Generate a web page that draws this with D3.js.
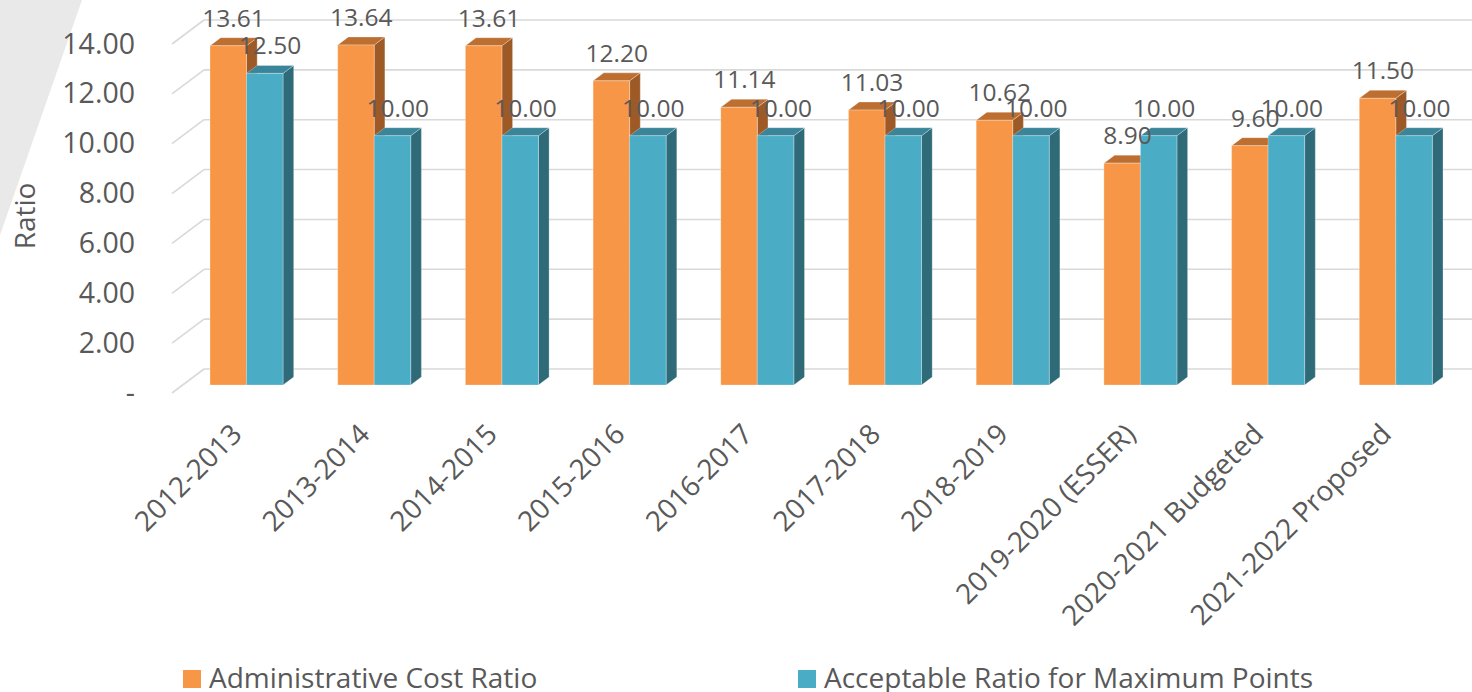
<!DOCTYPE html>
<html>
<head>
<meta charset="utf-8"/>
<style>
  body { margin: 0; background: #fff; }
  svg text { font-family: "Open Sans", "Noto Sans", sans-serif; fill: #595959; }
</style>
</head>
<body>
<svg id="chart" width="1472" height="692"></svg>
<script src="https://d3js.org/d3.v7.min.js"></script>
<script>
// data
const categories = ["2012-2013", "2013-2014", "2014-2015", "2015-2016", "2016-2017",
  "2017-2018", "2018-2019", "2019-2020 (ESSER)", "2020-2021 Budgeted", "2021-2022 Proposed"];
const adminCostRatio = [13.61, 13.64, 13.61, 12.20, 11.14, 11.03, 10.62, 8.90, 9.60, 11.50];
const acceptableRatio = [12.50, 10.00, 10.00, 10.00, 10.00, 10.00, 10.00, 10.00, 10.00, 10.00];
const seriesNames = ["Administrative Cost Ratio", "Acceptable Ratio for Maximum Points"];
const yTicks = [0, 2, 4, 6, 8, 10, 12, 14];

const svg = d3.select("#chart");

// 3d look: floor front edge, depth goes up-right
const floorY = 393;
const DX = 32, DY = -24;       // full depth of the floor
const barD0 = 1 / 3, barD1 = 2 / 3;

const x = d3.scaleBand().domain(categories).range([172, 1449])
  .paddingInner(0.428).paddingOuter(0.214);
const xs = d3.scaleBand().domain(seriesNames).range([0, x.bandwidth()]);
const h = d3.scaleLinear().domain([0, 14]).range([0, 349]);
const yFront = d3.scaleLinear().domain([0, 14]).range([floorY, floorY - 349]);

const colors = {
  "Administrative Cost Ratio": { front: "#f79646", top: "#bd6f32", side: "#9d5a26" },
  "Acceptable Ratio for Maximum Points": { front: "#4bacc6", top: "#3a8599", side: "#2f6a79" }
};

// gray corner in the top-left
svg.append("polygon").attr("points", "0,0 82,0 0,235").attr("fill", "#e9e9e9");

// gridlines on back and left walls
const grid = svg.append("g").attr("stroke", "#d9d9d9").attr("stroke-width", 1.6).attr("fill", "none");
yTicks.forEach(v => {
  const yf = yFront(v), yb = yFront(v) + DY;
  grid.append("line").attr("x1", 172).attr("y1", yf).attr("x2", 172 + DX).attr("y2", yb);
  grid.append("line").attr("x1", 172 + DX).attr("y1", yb).attr("x2", 1480).attr("y2", yb);
});

// y axis labels
const yAxis = svg.append("g").attr("transform", "translate(140,0)")
  .call(d3.axisLeft(yFront).tickValues(yTicks).tickSize(0).tickPadding(5)
    .tickFormat(d => d === 0 ? "-" : d.toFixed(2)));
yAxis.select(".domain").remove();
yAxis.selectAll("text").style("font-size", "28.5px").attr("fill", "#595959");

svg.append("text").attr("transform", "translate(35,216) rotate(-90)")
  .attr("text-anchor", "middle").style("font-size", "28px").text("Ratio");

// bars
const bars = [];
categories.forEach((c, i) => {
  bars.push({ cat: c, s: seriesNames[0], v: adminCostRatio[i] });
  bars.push({ cat: c, s: seriesNames[1], v: acceptableRatio[i] });
});

function P(xf, v, d) { return [xf + d * DX, floorY - h(v) + d * DY]; }

const bg = svg.append("g");
bars.forEach(b => {
  const x0 = x(b.cat) + xs(b.s), x1 = x0 + xs.bandwidth();
  const col = colors[b.s];
  const pts = a => a.map(p => p.join(",")).join(" ");
  const g = bg.append("g").attr("stroke", "rgba(255,255,255,0.35)").attr("stroke-width", 0.8);
  // side
  g.append("polygon").attr("fill", col.side).attr("points", pts([
    P(x1, 0, barD0), P(x1, 0, barD1), P(x1, b.v, barD1), P(x1, b.v, barD0)]));
  // top
  g.append("polygon").attr("fill", col.top).attr("points", pts([
    P(x0, b.v, barD0), P(x1, b.v, barD0), P(x1, b.v, barD1), P(x0, b.v, barD1)]));
  // front
  g.append("polygon").attr("fill", col.front).attr("points", pts([
    P(x0, 0, barD0), P(x1, 0, barD0), P(x1, b.v, barD0), P(x0, b.v, barD0)]));
});

// value labels
svg.append("g").selectAll("text").data(bars).join("text")
  .attr("x", d => x(d.cat) + xs(d.s) + xs.bandwidth() / 2 + DX * 0.5)
  .attr("y", d => P(0, d.v, barD1)[1] - 11)
  .attr("text-anchor", "middle").style("font-size", "24.5px")
  .text(d => d.v.toFixed(2));

// category axis
const xAxis = svg.append("g").attr("transform", `translate(${DX * barD0 - 3},436)`)
  .call(d3.axisBottom(x).tickSize(0).tickPadding(0));
xAxis.select(".domain").remove();
xAxis.selectAll("text")
  .attr("y", 0).attr("dy", 0).attr("x", 0)
  .attr("text-anchor", "end").attr("transform", "rotate(-45)")
  .attr("fill", "#595959").style("font-size", "28px");

// legend
const legend = svg.append("g");
const legX = [183, 798];
seriesNames.forEach((s, i) => {
  legend.append("rect").attr("x", legX[i]).attr("y", 670).attr("width", 18).attr("height", 18)
    .attr("fill", colors[s].front);
  legend.append("text").attr("x", legX[i] + 26).attr("y", 688)
    .style("font-size", "28px").text(s);
});
</script>
</body>
</html>
